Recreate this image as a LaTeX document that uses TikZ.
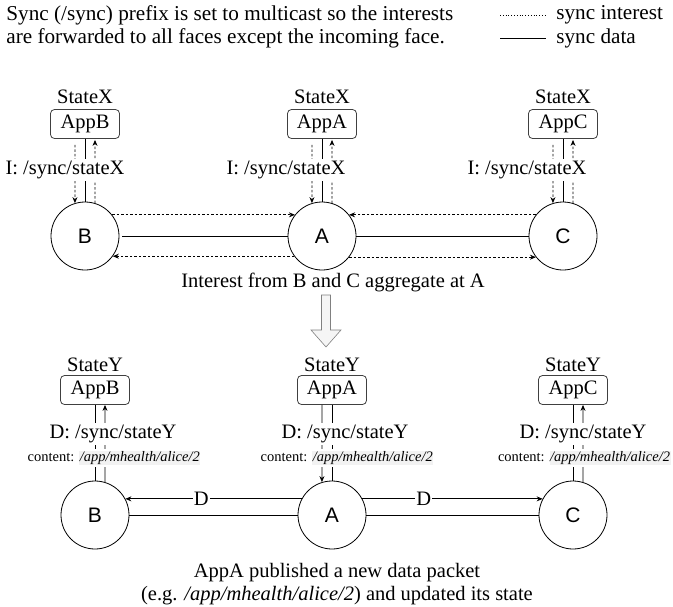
\documentclass[tikz,border=0pt]{standalone}
\usepackage{fontspec}
\setmainfont{Liberation Serif}
\newfontfamily\peerfont{Liberation Sans}
\usetikzlibrary{arrows.meta}

\newcommand{\pathbox}[1]{{\setlength{\fboxsep}{0.5pt}\colorbox{black!5}{\itshape #1}}}

\begin{document}
\begin{tikzpicture}[x=1pt, y=-1pt, line width=0.8pt,
    txt/.style={font=\fontsize{20.5}{23}\selectfont, inner sep=1pt},
    head/.style={font=\fontsize{21.2}{23}\selectfont, inner sep=1pt},
    lbl/.style={txt, fill=white, inner ysep=2pt},
    small/.style={font=\fontsize{14.5}{17}\selectfont, fill=white, inner sep=2pt},
    peer/.style={draw, circle, minimum size=68pt, inner sep=0pt,
        font=\peerfont\fontsize{21}{24}\selectfont},
    app/.style={draw=black!75, rounded corners=4pt, minimum width=69pt,
        minimum height=29pt, inner sep=0pt, font=\fontsize{20.5}{23}\selectfont},
    int/.style={dash pattern=on 2.5pt off 2pt, -{Stealth[length=6pt,width=5pt]}},
    dat/.style={-{Stealth[length=6pt,width=5pt]}}
]
\useasboundingbox (0,0) rectangle (673,606);

% note and legend
\node[head, anchor=west, align=left] (note) at (5,26.5)
    {Sync (/sync) prefix is set to multicast so the interests\\
     are forwarded to all faces except the incoming face.};
\node[head, anchor=west] (legI) at (555,15) {sync interest};
\node[head, anchor=west] (legD) at (555,38) {sync data};
\draw[dotted] ([xshift=-55pt]legI.west) -- ([xshift=-9pt]legI.west);
\draw ([xshift=-55pt]legD.west) -- ([xshift=-9pt]legD.west);

% interest phase
\foreach \p/\x in {B/85, A/322, C/563} {
    \node[peer] (\p1) at (\x,236) {\p};
    \node[app] (app\p1) at (\x,124) {App\p};
    \node[txt] (sx\p) at (\x,97) {StateX};
    \draw (app\p1.south) -- (\p1.north);
    \draw[int, shorten <=6pt] ([xshift=-10pt]app\p1.south) -- (\p1.107);
    \draw[int, shorten >=1pt] (\p1.73) -- ([xshift=10pt]app\p1.south);
};
\node[lbl] (iB) at (65,170) {I: /sync/stateX};
\node[lbl] (iA) at (286,170) {I: /sync/stateX};
\node[lbl] (iC) at (527,170) {I: /sync/stateX};

\draw[int] (B1.38) -- (A1.142);
\draw[shorten <=3pt] (B1.east) -- (A1.west);
\draw[int] (A1.216) -- (B1.324);
\draw[int] (C1.142) -- (A1.38);
\draw (A1.east) -- (C1.west);
\draw[int] (A1.322) -- (C1.218);

\node[txt] (aggr) at (333,282) {Interest from B and C aggregate at A};

% hollow arrow
\draw[gray, fill=gray!8, line width=0.6pt] (321.5,295) -- (330.5,295) -- (330.5,330)
    -- (341,330) -- (326,347) -- (311,330) -- (321.5,330) -- cycle;

% data phase
\foreach \p/\x in {B/95, A/332, C/573} {
    \node[peer] (\p2) at (\x,515) {\p};
    \node[app] (app\p2) at (\x,390) {App\p};
    \node[txt] (sy\p) at (\x,365) {StateY};
    \draw (app\p2.south) -- (\p2.north);
};
\draw[dat] (B2.73) -- ([xshift=10pt]appB2.south);
\draw[dat] ([xshift=-10pt]appA2.south) -- (A2.107);
\draw[dat] (C2.73) -- ([xshift=10pt]appC2.south);

\node[lbl] (dB) at (113,434) {D: /sync/stateY};
\node[lbl] (dA) at (345,434) {D: /sync/stateY};
\node[lbl] (dC) at (583,434) {D: /sync/stateY};
\node[small] (cB) at (114,458) {content: \pathbox{/app/mhealth/alice/2}};
\node[small] (cA) at (347,458) {content: \pathbox{/app/mhealth/alice/2}};
\node[small, anchor=east] (cC) at (673,458) {content: \pathbox{/app/mhealth/alice/2}};

\draw[dat] (A2.152) -- node[lbl, pos=0.57] (dAB) {D} (B2.28);
\draw (B2.east) -- (A2.west);
\draw[dat] (A2.28) -- node[lbl, pos=0.34] (dAC) {D} (C2.152);
\draw (A2.east) -- (C2.west);

\node[txt, align=center] (pub) at (337,584.5)
    {AppA published a new data packet\\
     (e.g. \textit{/app/mhealth/alice/2}) and updated its state};
\end{tikzpicture}
\end{document}
